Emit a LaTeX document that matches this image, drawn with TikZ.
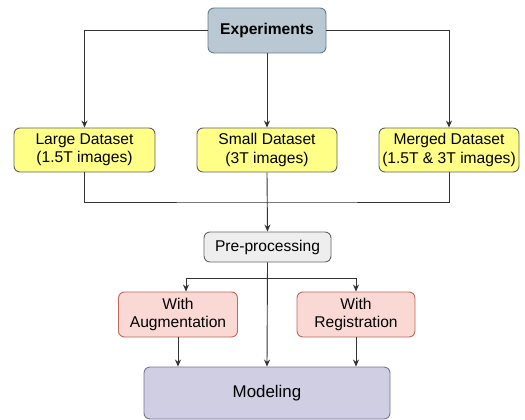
\documentclass[tikz,border=0pt]{standalone}
\usepackage{fontspec}
\setmainfont{Liberation Sans}
\usetikzlibrary{arrows.meta}
\definecolor{expfill}{HTML}{BAC8D3}
\definecolor{expdraw}{HTML}{23445D}
\definecolor{yelfill}{HTML}{FFFF88}
\definecolor{yeldraw}{HTML}{36393D}
\definecolor{prefill}{HTML}{EEEEEE}
\definecolor{predraw}{HTML}{666666}
\definecolor{redfill}{HTML}{FAD9D5}
\definecolor{reddraw}{HTML}{AE4132}
\definecolor{modfill}{HTML}{D0CEE2}
\definecolor{moddraw}{HTML}{56517E}
\definecolor{linec}{HTML}{333333}
\tikzset{
  box/.style={rounded corners=6pt, line width=0.9pt, align=center, inner sep=0pt,
    font=\fontsize{15.6}{18.5}\selectfont},
  expbox/.style={box, fill=expfill, draw=expdraw!70, minimum width=118pt, minimum height=45pt, font=\fontsize{15.6}{18.5}\selectfont\bfseries},
  yelbox/.style={box, fill=yelfill, draw=yeldraw!80, minimum width=140pt, minimum height=44pt},
  prebox/.style={box, fill=prefill, draw=predraw, minimum width=127pt, minimum height=30pt},
  redbox/.style={box, fill=redfill, draw=reddraw!80, minimum width=119pt, minimum height=45pt},
  modbox/.style={box, fill=modfill, draw=moddraw!80, minimum width=246pt, minimum height=52pt, font=\fontsize{16.9}{20}\selectfont},
  conn/.style={draw=linec, line width=0.9pt},
  arr/.style={conn, -{Stealth[length=7pt,width=6pt]}}
}
\begin{document}
\begin{tikzpicture}[x=1pt,y=-1pt]
\useasboundingbox (0,0) rectangle (525,420);
\node[expbox] (exp) at (267,30.5) {Experiments};
\node[yelbox, minimum width=141pt] (large) at (84.5,150) {Large Dataset\\(1.5T images)};
\node[yelbox] (small) at (267,150) {Small Dataset\\(3T images)};
\node[yelbox] (merged) at (449,150) {Merged Dataset\\(1.5T \& 3T images)};
\node[prebox] (pre) at (267.5,247) {Pre-processing};
\node[redbox] (aug) at (178,314.5) {With\\Augmentation};
\node[redbox, minimum width=118pt] (reg) at (356,314.5) {With\\Registration};
\node[modbox] (mod) at (267,393) {Modeling};
\coordinate (j) at (267,202);
\coordinate (s) at (267,278);
\draw[arr] (exp.west) -| (large.north);
\draw[arr] (exp.east) -| (merged.north);
\draw[arr] (exp.south) -- (small.north);
\draw[conn] (large.south) |- (j) -| (merged.south);
\draw[arr] (small.south) -- (pre.north);
\draw[arr] (pre.south) -- (mod.north);
\draw[arr] (s) -| ([xshift=8pt]aug.north);
\draw[arr] (s) -| (reg.north);
\draw[arr] (aug.south) -- (aug.south |- mod.north);
\draw[arr] (reg.south) -- (reg.south |- mod.north);
\end{tikzpicture}
\end{document}
